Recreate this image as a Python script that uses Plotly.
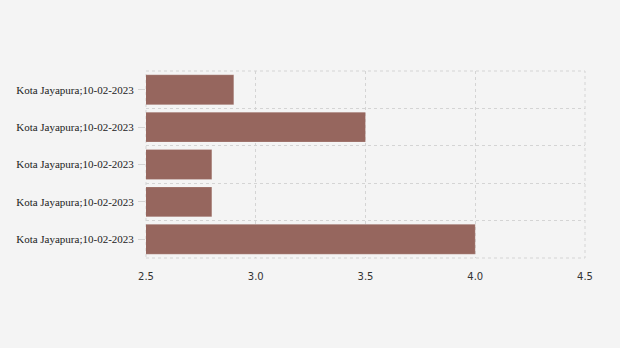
import plotly.graph_objects as go

categories = ["Kota Jayapura;10-02-2023"] * 5
values = [4.0, 2.8, 2.8, 3.5, 2.9]  # bottom to top
x_ticks = [2.5, 3.0, 3.5, 4.0, 4.5]
x_ticklabels = ["2.5", "3.0", "3.5", "4.0", "4.5"]

positions = list(range(len(values)))

grid_color = "#d4d4d4"

fig = go.Figure(go.Bar(
    x=values, y=positions, orientation="h",
    marker=dict(color="#96665e", line=dict(color="rgba(255,255,255,0.4)", width=0.5)),
    width=0.8, base=0,
))

fig.update_layout(
    width=620, height=348,
    margin=dict(l=146, r=35, t=71, b=90),
    paper_bgcolor="#f4f4f4", plot_bgcolor="#f4f4f4",
    showlegend=False,
    xaxis=dict(
        range=[2.5, 4.5], tickvals=x_ticks, ticktext=x_ticklabels,
        showgrid=True, gridcolor=grid_color, griddash="dot", gridwidth=1,
        zeroline=False, showline=False, ticks="",
        ticklabelstandoff=11,
        tickfont=dict(family="DejaVu Sans", size=10, color="#333333"),
    ),
    yaxis=dict(
        range=[-0.5, 4.5], tickvals=positions, ticktext=categories,
        showgrid=False, zeroline=False, showline=False,
        ticks="outside", ticklen=7, tickcolor=grid_color, tickwidth=1,
        ticklabelstandoff=2,
        tickfont=dict(family="Liberation Serif", size=11, color="#222222"),
        minor=dict(showgrid=True, tick0=0.5, dtick=1, gridcolor=grid_color,
                   griddash="dot", gridwidth=1, ticks=""),
    ),
    shapes=[dict(type="rect", xref="paper", yref="paper", x0=0, x1=1, y0=0, y1=1,
                 line=dict(color=grid_color, width=1, dash="dot"), layer="below")],
)

fig.write_html("out.html")
